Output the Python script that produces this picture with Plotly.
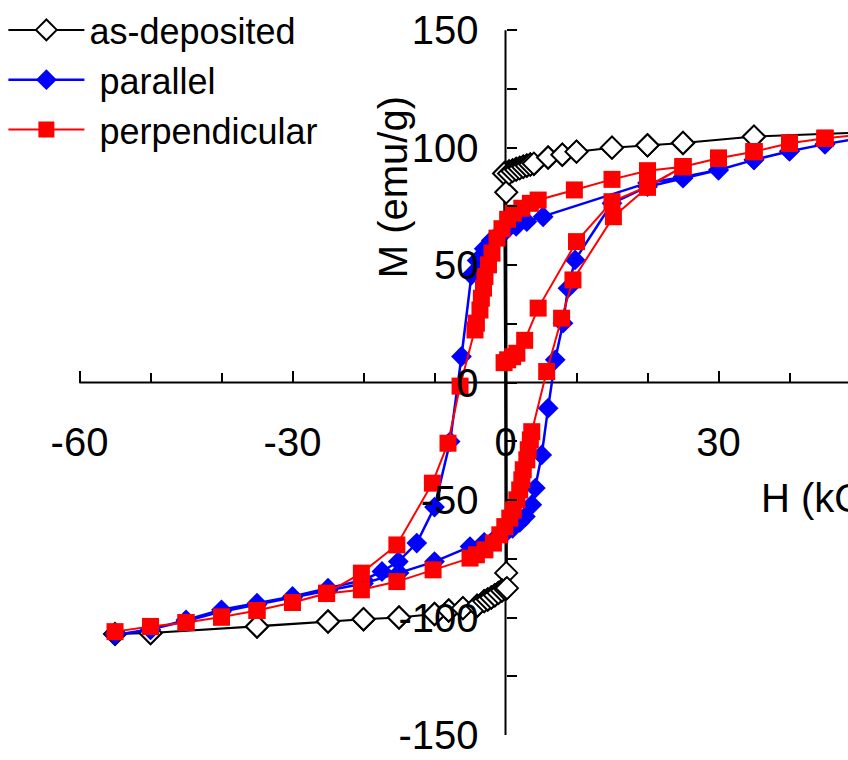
import plotly.graph_objects as go

# ---------------- data (H in kOe, M in emu/g) ----------------
asdep_H = [55, 50, 35, 25, 20, 15, 10, 8, 6, 4, 3.5, 3, 2.5, 2, 1.5, 1, 0.5, 0, -0.2,
           0.1, -0.5, -1, -1.5, -2, -2.5, -3, -4, -6, -8, -10, -15, -20, -25, -35, -50, -55,
           -50, -35, -25, -20, -15, -10, -8, -6, -4, -3, -2.5, -2, -1.5, -1, -0.5, 0, 0.2,
           0.1, 0.5, 1, 1.5, 2, 2.5, 3, 3.5, 4, 6, 8, 10, 15, 20, 25, 35, 50, 55]
asdep_M = [107, 106.5, 104.7, 102, 101, 100, 98.3, 97, 95.8, 93, 92.8, 92.4, 92, 91.5, 91, 90.4, 90, 89.5, 89,
           -81, -88.5, -89.5, -90.5, -91.5, -92.3, -93, -95, -96, -97, -98.5, -100, -100.7, -101.7, -103.8, -106.6, -107,
           -106.6, -103.8, -101.7, -100.7, -100, -98.5, -97, -96, -95, -93, -92.3, -91.5, -90.5, -89.5, -88.5, -88, -87.5,
           81, 89, 90, 90.6, 91.2, 91.8, 92.3, 92.8, 93.2, 95.8, 97, 98.3, 100, 101, 102, 104.7, 106.5, 107]

par_H = [50, 45, 40, 35, 30, 25, 20, 5.3, 3, 1.5, 0, -1, -2, -3, -4, -4.8, -6.2, -7.8, -10, -12.5,
         -15.1, -17.4, -20, -25, -30, -35, -40, -45, -50, -55,
         -50, -45, -40, -35, -30, -25, -20, -15, -10, -5, -3, -1.5, 0, 1, 2, 2.8, 3.7, 4.2, 5.1, 6,
         7, 8.1, 8.8, 9.8, 15, 20, 25, 30, 35, 40, 45, 50]
par_M = [104, 101.5, 98.5, 94.8, 90.5, 87.5, 85, 70.6, 68.5, 66.5, 64.5, 63, 60.5, 57, 52, 45.8, 11.1, -25.1, -53, -68.3,
         -76.2, -80.4, -84, -87.5, -91, -93.9, -96.7, -101, -105.2, -107.4,
         -105, -101.5, -97.5, -94.5, -91.5, -88.5, -85.5, -81, -76.2, -69.8, -68, -66.5, -64, -62, -59.5, -57, -52, -44.9, -30.8, -10.9,
         9.7, 25.3, 40.2, 52.2, 76.3, 83.4, 87, 90.5, 94.8, 98.5, 101.5, 104]

perp_H = [-0.2, 0.3, 1, 1.6, 2.7, 4.6, 10, 15, 20, 25, 30, 35, 40, 45, 50,
          45, 40, 35, 30, 25, 20, 15, 9.7, 4.6, 3.5, 2.3, 1.1, 0.3, -0.5, -1.2, -1.9, -2.4, -2.9, -3.1, -3.4,
          -3.6, -4.1, -4.3, -6.4, -8.1, -10.3, -15.3, -20.3, -25.2, -30, -35, -40, -45, -50, -55,
          -50, -45, -40, -35, -30, -25.2, -20.3, -15.3, -10.2, -5, -4.1, -2.9, -1.7, -0.8, -0.1, 0.6, 1.1,
          1.6, 2, 2.3, 2.5, 3, 3.2, 3.5, 3.7, 5.8, 7.9, 9.5, 15.2, 20, 25, 30, 35, 40, 45, 50]
perp_M = [8.5, 9.7, 11, 12.5, 18, 31.7, 60, 77, 83.5, 91.9, 95.5, 98.3, 101.9, 104, 105.5,
          104, 101.9, 98.3, 95.5, 91.9, 90.2, 86.5, 82, 77.7, 76.3, 74.2, 72.1, 69.5, 65.5, 61.5, 55.1, 50.1, 45.1, 40.2, 35.9,
          30.9, 25.3, 22.4, -1.5, -25.8, -42.8, -69.1, -81.1, -89.6, -93.6, -97, -99.8, -102.1, -103.8, -106,
          -103.8, -102.1, -99.8, -97, -93.6, -89.8, -88.2, -84.7, -79.7, -74.7, -73.3, -71.2, -68.3, -64.8, -61.3, -57.7, -54.2,
          -49.9, -45.7, -41.4, -37.1, -32.9, -28.6, -24.4, -20.9, 4.7, 27.4, 43.7, 70.6, 83.1, 91.9, 95.5, 98.3, 101.9, 104, 105.5]

series_names = ["as-deposited", "\u00a0parallel", "\u00a0perpendicular"]
x_tick_vals = [-60, -30, 0, 30]
x_tick_text = ["-60", "-30", "0", "30"]
x_minor_vals = [-50, -40, -20, -10, 10, 20, 40]
y_tick_vals = [-150, -100, -50, 0, 50, 100, 150]
y_tick_text = ["-150", "-100", "-50", "0", "50", "100", "150"]
y_minor_vals = [-125, -75, -25, 25, 75, 125]
x_axis_span = [-60, 48.24]
y_axis_span = [-150, 150]
x_range = [-71.2, 48.24]
y_range = [-150, 162.85]

FONT = "Liberation Sans, Arial, sans-serif"

fig = go.Figure()
fig.add_trace(go.Scatter(
    x=asdep_H, y=asdep_M, name=series_names[0], mode="lines+markers",
    line=dict(color="black", width=2),
    marker=dict(symbol="diamond", size=17, color="white", line=dict(color="black", width=2)),
))
fig.add_trace(go.Scatter(
    x=par_H, y=par_M, name=series_names[1], mode="lines+markers",
    line=dict(color="#0000ff", width=2.5),
    marker=dict(symbol="diamond", size=16, color="#0000ff", line=dict(width=0)),
))
fig.add_trace(go.Scatter(
    x=perp_H, y=perp_M, name=series_names[2], mode="lines+markers",
    line=dict(color="#ff0000", width=2),
    marker=dict(symbol="square", size=17, color="#ff0000", line=dict(width=0)),
))

xpos_frac = (0 - y_range[0]) / (y_range[1] - y_range[0])
ypos_frac = (0 - x_range[0]) / (x_range[1] - x_range[0])

fig.update_layout(
    width=848, height=760,
    margin=dict(l=0, r=0, t=0, b=25),
    paper_bgcolor="white", plot_bgcolor="white",
    font=dict(family=FONT, size=40, color="black"),
    showlegend=True,
    legend=dict(x=0.004, y=1, xref="paper", yref="paper", xanchor="left", yanchor="top",
                bgcolor="rgba(0,0,0,0)", font=dict(size=36), tracegroupgap=0, itemwidth=76),
    xaxis=dict(
        range=x_range, anchor="free", position=xpos_frac,
        showgrid=False, showline=False, zeroline=False,
        tickmode="array", tickvals=x_tick_vals, ticktext=x_tick_text,
        ticks="inside", ticklen=12, tickwidth=2, tickcolor="black",
        minor=dict(tickmode="array", tickvals=x_minor_vals, ticks="inside", ticklen=10,
                   tickwidth=2, tickcolor="black", showgrid=False),
        ticklabelstandoff=32,
        tickfont=dict(size=40),
    ),
    yaxis=dict(
        range=y_range, anchor="free", position=ypos_frac,
        showgrid=False, showline=False, zeroline=False,
        tickmode="array", tickvals=y_tick_vals, ticktext=y_tick_text,
        ticks="inside", ticklen=10, tickwidth=2, tickcolor="black",
        minor=dict(tickmode="array", tickvals=y_minor_vals, ticks="inside", ticklen=10,
                   tickwidth=2, tickcolor="black", showgrid=False),
        ticklabelstandoff=27,
        tickfont=dict(size=40),
    ),
    shapes=[
        dict(type="line", xref="x", yref="y", x0=x_axis_span[0], x1=x_axis_span[1], y0=0, y1=0,
             line=dict(color="black", width=2), layer="below"),
        dict(type="line", xref="x", yref="y", x0=0, x1=0, y0=y_axis_span[0], y1=y_axis_span[1],
             line=dict(color="black", width=2), layer="below"),
    ],
    annotations=[
        dict(text="M (emu/g)", x=-15.9, y=83, xref="x", yref="y", showarrow=False,
             textangle=-90, font=dict(size=40)),
        dict(text="H (kOe)", x=35.7, y=-49, xref="x", yref="y", showarrow=False,
             xanchor="left", font=dict(size=40)),
    ],
)

fig.write_html("out.html")
